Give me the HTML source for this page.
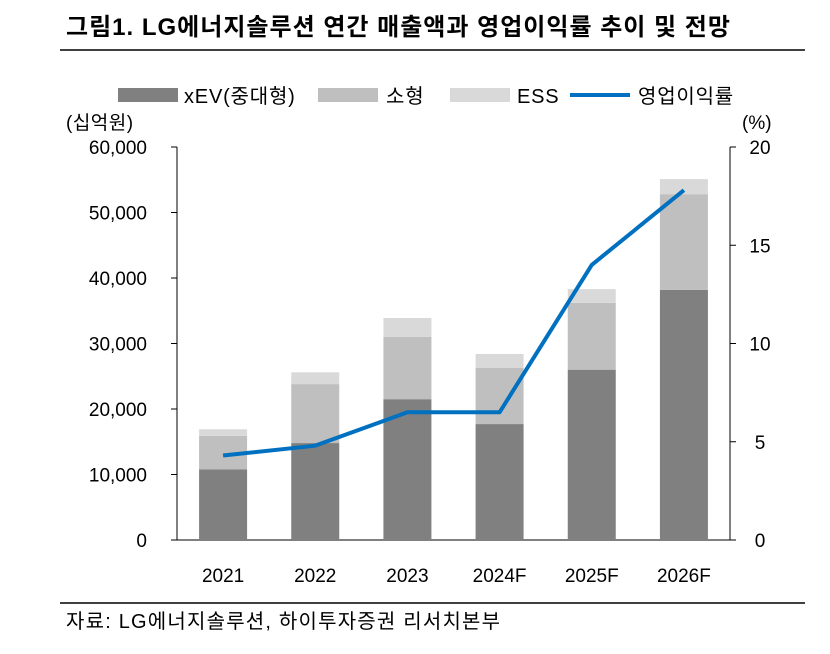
<!DOCTYPE html>
<html><head><meta charset="utf-8"><style>
body{margin:0;background:#fff;width:830px;height:654px;overflow:hidden;font-family:"Liberation Sans","Noto Sans CJK KR",sans-serif;}
</style></head><body>
<svg width="830" height="654" style="position:absolute;left:0;top:0" font-family="Liberation Sans, Noto Sans CJK KR, sans-serif">
<text x="66" y="35" font-size="24" font-weight="bold" letter-spacing="1" fill="#000">그림1. LG에너지솔루션 연간 매출액과 영업이익률 추이 및 전망</text>
<line x1="60" y1="50" x2="805" y2="50" stroke="#000" stroke-width="1.5"/>
<g font-size="20" letter-spacing="0.8" fill="#000">
<rect x="118" y="88" width="60" height="14" fill="#808080"/>
<text x="184" y="103">xEV(중대형)</text>
<rect x="318" y="88" width="60" height="14" fill="#bfbfbf"/>
<text x="386" y="103">소형</text>
<rect x="450" y="88" width="60" height="14" fill="#d9d9d9"/>
<text x="517" y="103">ESS</text>
<line x1="570" y1="95" x2="630" y2="95" stroke="#0070c0" stroke-width="4"/>
<text x="638" y="103">영업이익률</text>
</g>
<text x="66" y="129" font-size="19" letter-spacing="0.5">(십억원)</text>
<text x="742" y="129" font-size="19">(%)</text>
<g id="plot"></g>
<line x1="60" y1="603" x2="805" y2="603" stroke="#000" stroke-width="1.5"/>
<text x="66" y="628" font-size="20" letter-spacing="1.2">자료: LG에너지솔루션, 하이투자증권 리서치본부</text>
</svg>
<script>
const categories=["2021","2022","2023","2024F","2025F","2026F"];
const xevValues=[10800,14800,21500,17700,26000,38200];
const smallValues=[5100,9000,9500,8600,10200,14600];
const essValues=[1000,1800,2900,2100,2100,2300];
const marginValues=[4.3,4.8,6.5,6.5,14.0,17.8];
const leftTicks=[0,10000,20000,30000,40000,50000,60000];
const rightTicks=[0,5,10,15,20];
const NS="http://www.w3.org/2000/svg";
const g=document.getElementById('plot');
const L=177,R=730,T=147,B=540;
const yL=v=>B-(v/60000)*(B-T);
const yR=v=>B-(v/20)*(B-T);
const step=(R-L)/categories.length;
const xC=i=>L+step*(i+0.5);
function mk(tag,attrs){const e=document.createElementNS(NS,tag);for(const k in attrs)e.setAttribute(k,attrs[k]);g.appendChild(e);return e;}
let e;
e=mk('line',{x1:L,y1:T,x2:L,y2:B,stroke:'#000'});


e=mk('line',{x1:R,y1:T,x2:R,y2:B,stroke:'#000'});


e=mk('line',{x1:L,y1:B,x2:R,y2:B,stroke:'#000'});


leftTicks.forEach(v=>{
 e=mk('line',{x1:L-6,y1:yL(v),x2:L,y2:yL(v),stroke:'#000'});
 
 
 e=mk('text',{x:L-30,y:yL(v)+7,'font-size':19,'text-anchor':'end'});
 e.textContent=v.toLocaleString('en-US');
 
 
});
rightTicks.forEach(v=>{
 e=mk('line',{x1:R,y1:yR(v),x2:R+6,y2:yR(v),stroke:'#000'});
 
 
 e=mk('text',{x:R+30,y:yR(v)+7,'font-size':19,'text-anchor':'middle'});
 e.textContent=v;
 
 
});
const bw=48;
categories.forEach((c,i)=>{
 const x=xC(i)-bw/2;
 const a=xevValues[i],b=a+smallValues[i],d=b+essValues[i];
 e=mk('rect',{x:x,y:yL(a),width:bw,height:B-yL(a),fill:'#808080'});
 
 
 e=mk('rect',{x:x,y:yL(b),width:bw,height:yL(a)-yL(b),fill:'#bfbfbf'});
 
 
 e=mk('rect',{x:x,y:yL(d),width:bw,height:yL(b)-yL(d),fill:'#d9d9d9'});
 
 
 e=mk('text',{x:xC(i),y:582,'font-size':19,'text-anchor':'middle'});
 e.textContent=c;
 
 
});
e=mk('polyline',{points:marginValues.map((v,i)=>xC(i)+','+yR(v)).join(' '),fill:'none',stroke:'#0070c0','stroke-width':4,'stroke-linejoin':'round'});


</script>
</body></html>
